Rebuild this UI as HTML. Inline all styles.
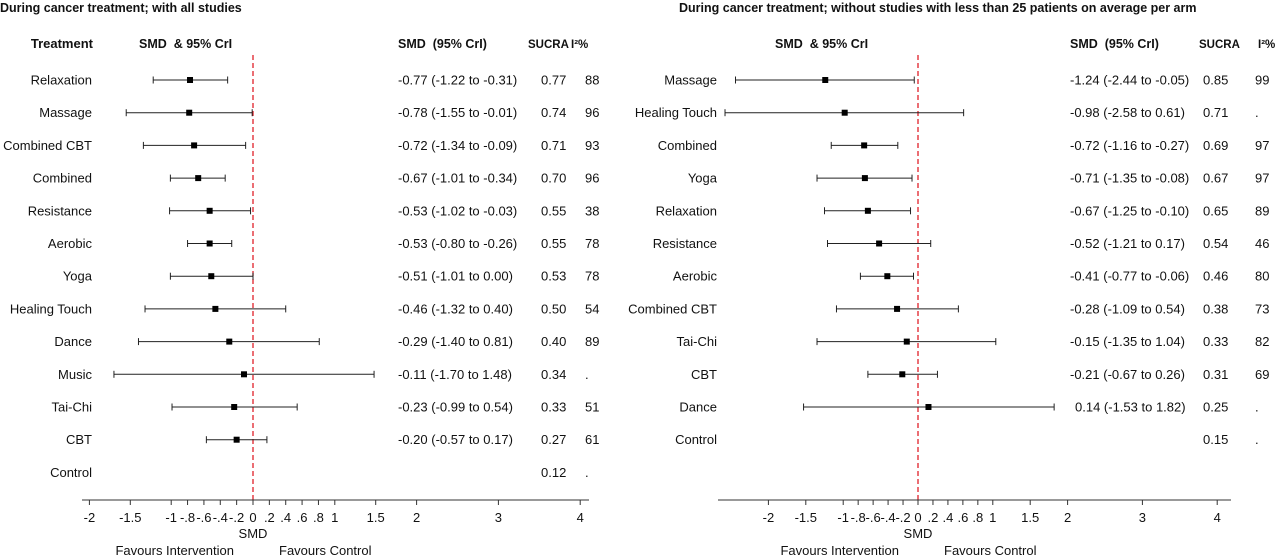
<!DOCTYPE html>
<html><head><meta charset="utf-8">
<style>
html,body{margin:0;padding:0;background:#fff;}
svg{display:block;font-family:"Liberation Sans",Arial,sans-serif;}
text{fill:#111;white-space:pre;}
.b{font-weight:bold;}
</style></head>
<body>
<svg id="chart" width="1280" height="558" viewBox="0 0 1280 558" xmlns="http://www.w3.org/2000/svg">
<text class="b" x="0" y="12" font-size="12.5">During cancer treatment; with all studies</text>
<text class="b" x="679" y="12" font-size="12.5">During cancer treatment; without studies with less than 25 patients on average per arm</text>
<g id="left"></g>
<g id="right"></g>
</svg>
<script>
// Left panel data
const leftTreatments=["Relaxation","Massage","Combined CBT","Combined","Resistance","Aerobic","Yoga","Healing Touch","Dance","Music","Tai-Chi","CBT","Control"];
const leftSmd=[-0.77,-0.78,-0.72,-0.67,-0.53,-0.53,-0.51,-0.46,-0.29,-0.11,-0.23,-0.20,null];
const leftLow=[-1.22,-1.55,-1.34,-1.01,-1.02,-0.80,-1.01,-1.32,-1.40,-1.70,-0.99,-0.57,null];
const leftHigh=[-0.31,-0.01,-0.09,-0.34,-0.03,-0.26,0.00,0.40,0.81,1.48,0.54,0.17,null];
const leftSucra=["0.77","0.74","0.71","0.70","0.55","0.55","0.53","0.50","0.40","0.34","0.33","0.27","0.12"];
const leftI2=["88","96","93","96","38","78","78","54","89",".","51","61","."];
// Right panel data
const rightTreatments=["Massage","Healing Touch","Combined","Yoga","Relaxation","Resistance","Aerobic","Combined CBT","Tai-Chi","CBT","Dance","Control"];
const rightSmd=[-1.24,-0.98,-0.72,-0.71,-0.67,-0.52,-0.41,-0.28,-0.15,-0.21,0.14,null];
const rightLow=[-2.44,-2.58,-1.16,-1.35,-1.25,-1.21,-0.77,-1.09,-1.35,-0.67,-1.53,null];
const rightHigh=[-0.05,0.61,-0.27,-0.08,-0.10,0.17,-0.06,0.54,1.04,0.26,1.82,null];
const rightSucra=["0.85","0.71","0.69","0.67","0.65","0.54","0.46","0.38","0.33","0.31","0.25","0.15"];
const rightI2=["99",".","97","97","89","46","80","73","82","69",".","."];
// Axis ticks
const tickValues=[-2,-1.5,-1,-0.8,-0.6,-0.4,-0.2,0,0.2,0.4,0.6,0.8,1,1.5,2,3,4];
const tickLabels=["-2","-1.5","-1","-.8","-.6","-.4","-.2","0",".2",".4",".6",".8","1","1.5","2","3","4"];

const NS="http://www.w3.org/2000/svg";
function mk(parent,tag,attrs,txt){const e=document.createElementNS(NS,tag);for(const k in attrs)e.setAttribute(k,attrs[k]);if(txt!==undefined)e.textContent=txt;parent.appendChild(e);return e;}
function fmt(v){return (v<0?"-":"")+Math.abs(v).toFixed(2);}

function panel(g,cfg,tr,smd,lo,hi,su,i2){
  const x=v=>cfg.zero+v*cfg.scale;
  const y=i=>80+i*32.7;
  let t;
  t=mk(g,"text",{x:cfg.lblRight+1,y:48,"font-size":13,"text-anchor":"end",class:"b"},cfg.treatHead);
  
  t=mk(g,"text",{x:cfg.plotHeadX,y:48,"font-size":12.5,class:"b"},"SMD  & 95% CrI");
  
  t=mk(g,"text",{x:cfg.smdX,y:48,"font-size":12.5,class:"b"},"SMD  (95% CrI)");
  
  t=mk(g,"text",{x:cfg.sucraHX,y:48,"font-size":11.5,class:"b"},"SUCRA");
  
  t=mk(g,"text",{x:cfg.i2HX,y:48,"font-size":11.5,class:"b"},"I²%");
  
  const rl=mk(g,"line",{x1:x(0),x2:x(0),y1:55,y2:500,stroke:"#e0202a","stroke-width":1.3,"stroke-dasharray":"5,3"});
  
  tr.forEach((name,i)=>{
    const yy=y(i);
    let e=mk(g,"text",{x:cfg.lblRight,y:yy+4.5,"font-size":13,"text-anchor":"end"},name);
    
    if(smd[i]!==null){
      const gr=mk(g,"g",{});
      
      
      mk(gr,"line",{x1:x(lo[i]),x2:x(hi[i]),y1:yy,y2:yy,stroke:"#222","stroke-width":1});
      mk(gr,"line",{x1:x(lo[i]),x2:x(lo[i]),y1:yy-3.5,y2:yy+3.5,stroke:"#222","stroke-width":1});
      mk(gr,"line",{x1:x(hi[i]),x2:x(hi[i]),y1:yy-3.5,y2:yy+3.5,stroke:"#222","stroke-width":1});
      const pt=mk(gr,"rect",{x:x(smd[i])-3,y:yy-3,width:6,height:6,fill:"#000"});
      
      const s=fmt(smd[i])+" ("+fmt(lo[i])+" to "+fmt(hi[i])+")";
      e=mk(g,"text",{x:cfg.smdX+(smd[i]<0?0:5),y:yy+4.5,"font-size":13},s);
      
    }
    e=mk(g,"text",{x:cfg.sucraX,y:yy+4.5,"font-size":13},su[i]);
    
    e=mk(g,"text",{x:cfg.i2X,y:yy+4.5,"font-size":13},i2[i]);
    
  });
  const ax=mk(g,"g",{});
  
  mk(ax,"line",{x1:cfg.axL,x2:cfg.axR,y1:500,y2:500,stroke:"#333","stroke-width":1});
  tickValues.forEach((v,k)=>{
    mk(ax,"line",{x1:x(v),x2:x(v),y1:500,y2:505,stroke:"#333","stroke-width":1});
    const tl=mk(ax,"text",{x:x(v),y:522,"font-size":13,"text-anchor":"middle"},tickLabels[k]);
    
  });
  let e=mk(g,"text",{x:x(0),y:538,"font-size":13,"text-anchor":"middle"},"SMD");
  
  e=mk(g,"text",{x:x(0)-19,y:555,"font-size":13,"text-anchor":"end"},"Favours Intervention");
  
  e=mk(g,"text",{x:x(0)+26,y:555,"font-size":13},"Favours Control");
  
}
panel(document.getElementById('left'),{zero:253,scale:81.8,lblRight:92,treatHead:"Treatment",plotHeadX:139,smdX:398,sucraHX:528,i2HX:571,sucraX:541,i2X:585,axL:82,axR:589},
  leftTreatments,leftSmd,leftLow,leftHigh,leftSucra,leftI2);
panel(document.getElementById('right'),{zero:918,scale:74.8,lblRight:717,treatHead:"",plotHeadX:775,smdX:1070,sucraHX:1199,i2HX:1258,sucraX:1203,i2X:1255,axL:718,axR:1231},
  rightTreatments,rightSmd,rightLow,rightHigh,rightSucra,rightI2);
</script>
</body></html>
